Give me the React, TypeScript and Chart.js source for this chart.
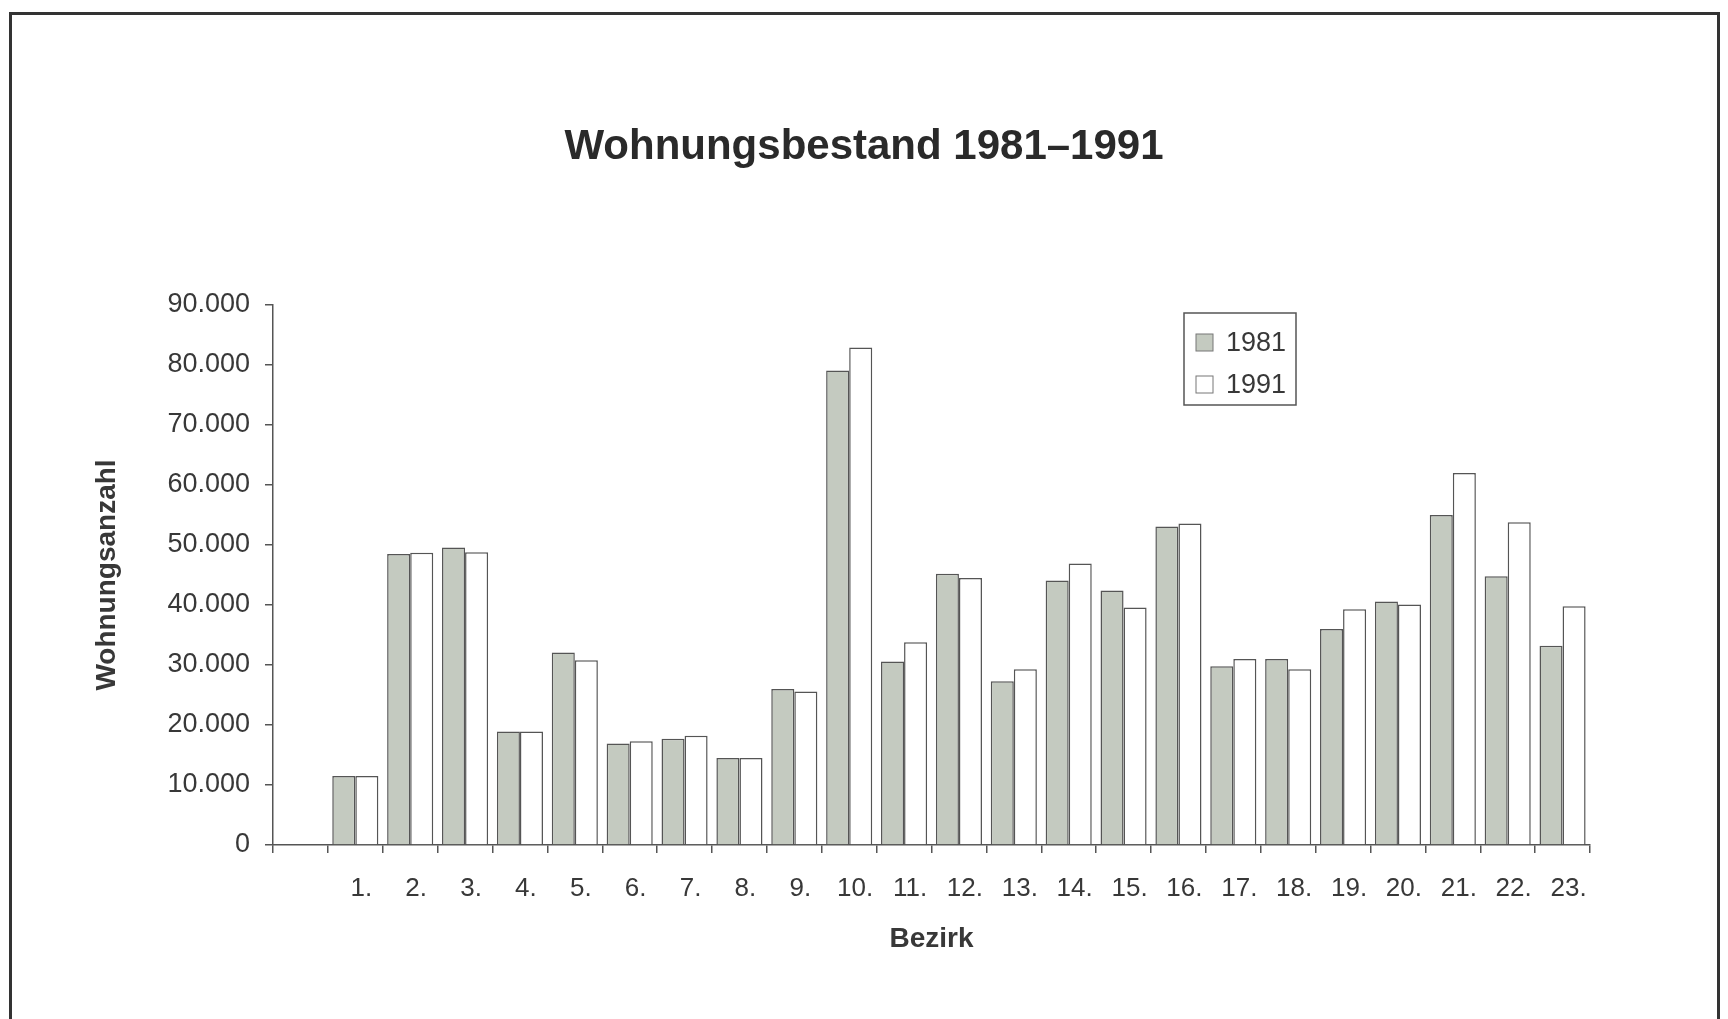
import React, { useEffect, useRef } from "react";
import { Chart, registerables } from "chart.js";

Chart.register(...registerables);

const districts = ["1.", "2.", "3.", "4.", "5.", "6.", "7.", "8.", "9.", "10.", "11.", "12.", "13.", "14.", "15.", "16.", "17.", "18.", "19.", "20.", "21.", "22.", "23."];
const values1981 = [11500, 48500, 49600, 18900, 32100, 16900, 17700, 14500, 26000, 79100, 30600, 45200, 27300, 44100, 42400, 53100, 29800, 31000, 36000, 40600, 55000, 44800, 33200];
const values1991 = [11500, 48700, 48800, 18900, 30800, 17300, 18200, 14500, 25600, 82900, 33800, 44500, 29300, 46900, 39600, 53600, 31000, 29300, 39300, 40100, 62000, 53800, 39800];
const seriesLabels = ["1981", "1991"];
const yMin = 0;
const yMax = 90000;
const yStep = 10000;

const FONT = "'Liberation Sans', Arial, Helvetica, sans-serif";
const TEXT = "#383838";
const LINE = "#555555";
const FILL_1981 = "#c4cac0";
const FILL_1991 = "#ffffff";

function fmt(v: number): string {
  return String(Math.round(v)).replace(/\B(?=(\d{3})+(?!\d))/g, ".");
}

const boxLegend = {
  id: "boxLegend",
  afterDraw(chart: any) {
    const { ctx, chartArea } = chart;
    const x0 = chartArea.right - 406;
    const y0 = chartArea.top + 8;
    const w = 112;
    const h = 92;
    ctx.save();
    ctx.lineWidth = 1.5;
    ctx.strokeStyle = LINE;
    ctx.strokeRect(x0, y0, w, h);
    const rows = [30, 72];
    chart.data.datasets.forEach((ds: any, i: number) => {
      const cy = y0 + rows[i];
      ctx.fillStyle = ds.backgroundColor;
      ctx.fillRect(x0 + 12, cy - 9, 17, 17);
      ctx.lineWidth = 1;
      ctx.strokeStyle = "#777";
      ctx.strokeRect(x0 + 12, cy - 9, 17, 17);
      ctx.fillStyle = TEXT;
      ctx.font = `27px ${FONT}`;
      ctx.textBaseline = "middle";
      ctx.textAlign = "left";
      ctx.fillText(ds.label, x0 + 42, cy + 1);
    });
    ctx.restore();
  },
};

export default function App() {
  const ref = useRef<HTMLCanvasElement | null>(null);

  useEffect(() => {
    if (!ref.current) return;
    const labels = ["", ...districts];
    const chart = new Chart(ref.current, {
      type: "bar",
      data: {
        labels,
        datasets: [
          {
            label: seriesLabels[0],
            data: [null, ...values1981],
            backgroundColor: FILL_1981,
            borderColor: LINE,
            borderWidth: 1.5,
          },
          {
            label: seriesLabels[1],
            data: [null, ...values1991],
            backgroundColor: FILL_1991,
            borderColor: LINE,
            borderWidth: 1.5,
          },
        ],
      },
      options: {
        responsive: false,
        animation: false,
        devicePixelRatio: 1,
        layout: { padding: 0 },
        datasets: {
          bar: { categoryPercentage: 0.84, barPercentage: 1.0 },
        },
        plugins: {
          legend: { display: false },
          tooltip: { enabled: false },
          title: {
            display: true,
            text: "Wohnungsbestand 1981–1991",
            color: "#2a2a2a",
            font: { family: FONT, size: 42, weight: "bold", lineHeight: 1.2 },
            padding: { top: 122, bottom: 132.6 },
          },
        },
        scales: {
          x: {
            type: "category",
            offset: true,
            grid: {
              display: true,
              offset: true,
              drawOnChartArea: false,
              drawTicks: true,
              tickLength: 8,
              color: LINE,
              lineWidth: 1.5,
            },
            border: { display: true, color: LINE, width: 1.5 },
            ticks: {
              color: TEXT,
              font: { family: FONT, size: 26, lineHeight: 1.2 },
              padding: 20,
              labelOffset: 6,
              maxRotation: 0,
              autoSkip: false,
            },
            title: {
              display: true,
              text: "Bezirk",
              color: TEXT,
              font: { family: FONT, size: 28, weight: "bold", lineHeight: 1.2 },
              padding: { top: 0, bottom: 63 },
            },
            afterFit(scale: any) {
              scale.height = 174;
            },
          },
          y: {
            type: "linear",
            position: "left",
            min: yMin,
            max: yMax,
            grid: {
              display: true,
              drawOnChartArea: false,
              drawTicks: true,
              tickLength: 8,
              color: LINE,
              lineWidth: 1.5,
            },
            border: { display: true, color: LINE, width: 1.5 },
            ticks: {
              stepSize: yStep,
              color: TEXT,
              font: { family: FONT, size: 27, lineHeight: 1.2 },
              padding: 15,
              callback: (v: any) => fmt(Number(v)),
            },
            title: {
              display: true,
              text: "Wohnungsanzahl",
              color: TEXT,
              font: { family: FONT, size: 28, weight: "bold", lineHeight: 1.2 },
              padding: { top: 90, bottom: 0 },
            },
            afterFit(scale: any) {
              scale.width = 273;
            },
          },
          y2: {
            type: "linear",
            position: "right",
            display: true,
            grid: { display: false, drawTicks: false },
            border: { display: false },
            ticks: { display: false },
            afterFit(scale: any) {
              scale.width = 138;
            },
          },
        },
      } as any,
      plugins: [boxLegend],
    });
    return () => chart.destroy();
  }, []);

  return (
    <div
      style={{
        position: "fixed",
        left: 0,
        top: 0,
        width: 1728,
        height: 1019,
        overflow: "hidden",
        background: "#ffffff",
      }}
    >
      <div
        style={{
          position: "absolute",
          left: 9,
          top: 12,
          width: 1705,
          height: 1200,
          border: "3px solid #333333",
          boxSizing: "content-box",
        }}
      />
      <canvas
        ref={ref}
        width={1728}
        height={1019}
        style={{ position: "absolute", left: 0, top: 0, width: 1728, height: 1019 }}
      />
    </div>
  );
}
